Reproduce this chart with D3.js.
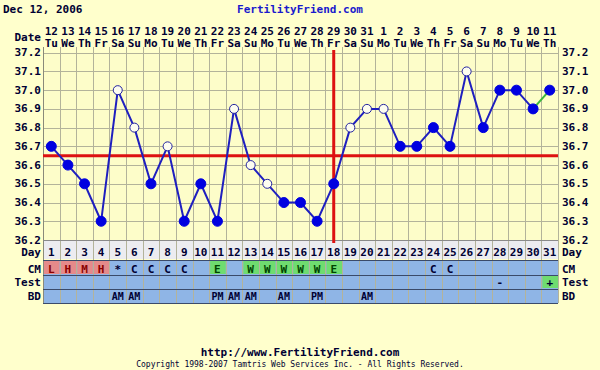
<!DOCTYPE html>
<html>
<head>
<meta charset="utf-8">
<script src="https://cdn.jsdelivr.net/npm/d3@7"></script>
<style>
  body { margin: 0; background: #ffffcc; }
  svg { display: block; }
</style>
</head>
<body>
<svg id="chart" width="600" height="370"></svg>
<script>
// cycle data
let days = d3.range(1, 32);
let dates = [12,13,14,15,16,17,18,19,20,21,22,23,24,25,26,27,28,29,30,31,1,2,3,4,5,6,7,8,9,10,11];
let weekdays = ["Tu","We","Th","Fr","Sa","Su","Mo","Tu","We","Th","Fr","Sa","Su","Mo","Tu","We","Th","Fr","Sa","Su","Mo","Tu","We","Th","Fr","Sa","Su","Mo","Tu","We","Th"];
let temps = [36.7,36.6,36.5,36.3,37.0,36.8,36.5,36.7,36.3,36.5,36.3,36.9,36.6,36.5,36.4,36.4,36.3,36.5,36.8,36.9,36.9,36.7,36.7,36.8,36.7,37.1,36.8,37.0,37.0,36.9,37.0];
let openDays = [5,6,8,12,13,14,19,20,21,26];
let cmCodes = ["L","H","M","H","*","C","C","C","C","","E","","W","W","W","W","W","E","","","","","","C","C","","","","","",""];
let testCodes = ["","","","","","","","","","","","","","","","","","","","","","","","","","","","-","","","+"];
let bdCodes = ["","","","","AM","AM","","","","","PM","AM","AM","","AM","","PM","","","AM","","","","","","","","","","",""];
let yTicks = [36.2,36.3,36.4,36.5,36.6,36.7,36.8,36.9,37.0,37.1,37.2];
let coverline = 36.65;
let ovulationDay = 18;

const svg = d3.select("#chart");
const font = "'DejaVu Sans Mono', monospace";
const ink = "#000033";

let plotLeft = 43, plotRight = 558, plotTop = 52.7, plotBottom = 240;

let x = d3.scaleBand().domain(days).range([plotLeft, plotRight]);
let y = d3.scaleLinear().domain([36.2, 37.2]).range([plotBottom, plotTop]);
let cx = d => x(d) + x.bandwidth() / 2;

// plot area
svg.append("rect")
   .attr("x", plotLeft).attr("y", plotTop)
   .attr("width", plotRight - plotLeft).attr("height", plotBottom - plotTop)
   .attr("fill", "#fdfdc9");

// rows below the plot
let rows = [
  {name: "Day", y0: 240, y1: 259, base: 256, fill: "#ececf0"},
  {name: "CM", y0: 260, y1: 275, base: 272.5, fill: "#8fb5e6"},
  {name: "Test", y0: 275, y1: 289, base: 286, fill: "#8fb5e6"},
  {name: "BD", y0: 289, y1: 303, base: 300, fill: "#8fb5e6"}
];

svg.selectAll("rect.row")
   .data(rows)
   .join("rect")
   .attr("class", "row")
   .attr("x", plotLeft).attr("y", d => d.y0)
   .attr("width", plotRight - plotLeft).attr("height", d => d.y1 - d.y0)
   .attr("fill", d => d.fill);

// coloured cm cells
let cmColor = c => c && "LHM".includes(c) ? "#e58a8a" : (c && "EW".includes(c) ? "#6fdc6f" : null);
svg.selectAll("rect.cm")
   .data(days.filter(d => cmColor(cmCodes[d - 1])))
   .join("rect")
   .attr("class", "cm")
   .attr("x", d => x(d) + 1).attr("y", 261)
   .attr("width", x.bandwidth() - 1).attr("height", 13)
   .attr("fill", d => cmColor(cmCodes[d - 1]));

svg.selectAll("rect.test")
   .data(days.filter(d => testCodes[d - 1] === "+"))
   .join("rect")
   .attr("class", "test")
   .attr("x", d => x(d) + 1).attr("y", 276)
   .attr("width", x.bandwidth() - 1).attr("height", 12)
   .attr("fill", "#6fdc6f");

// grid
const grid = svg.append("g").attr("stroke", "#b3b39a").attr("stroke-width", 1);
grid.selectAll("line.h")
    .data(yTicks)
    .join("line")
    .attr("class", "h")
    .attr("x1", plotLeft).attr("x2", plotRight)
    .attr("y1", d => Math.round(y(d)) + 0.5).attr("y2", d => Math.round(y(d)) + 0.5);
grid.selectAll("line.v")
    .data(d3.range(0, 32))
    .join("line")
    .attr("class", "v")
    .attr("x1", i => Math.round(plotLeft + i * x.bandwidth()) + 0.5)
    .attr("x2", i => Math.round(plotLeft + i * x.bandwidth()) + 0.5)
    .attr("y1", 47).attr("y2", 303)
    .attr("stroke", i => i === 0 ? "#8a8a7a" : null);

// row separators
svg.selectAll("line.sep")
   .data([240, 260, 275, 289, 303])
   .join("line")
   .attr("class", "sep")
   .attr("x1", plotLeft).attr("x2", plotRight)
   .attr("y1", d => d + 0.5).attr("y2", d => d + 0.5)
   .attr("stroke", d => d === 240 ? "#8a8a8a" : "#3a4a6a")
   .attr("stroke-width", 1);

// coverline and ovulation line
svg.append("line")
   .attr("x1", plotLeft).attr("x2", plotRight)
   .attr("y1", y(coverline)).attr("y2", y(coverline))
   .attr("stroke", "#dd1111").attr("stroke-width", 3);
svg.append("line")
   .attr("x1", cx(ovulationDay)).attr("x2", cx(ovulationDay))
   .attr("y1", 50).attr("y2", 243)
   .attr("stroke", "#dd1111").attr("stroke-width", 3);

// temperature line
let pts = days.map((d, i) => ({day: d, t: temps[i], open: openDays.includes(d)}));
let line = d3.line().x(d => cx(d.day)).y(d => y(d.t));
svg.append("path")
   .datum(pts.slice(0, 30))
   .attr("d", line)
   .attr("fill", "none")
   .attr("stroke", "#1f1fbf").attr("stroke-width", 2);
svg.append("path")
   .datum(pts.slice(29))
   .attr("d", line)
   .attr("fill", "none")
   .attr("stroke", "#3cb83c").attr("stroke-width", 2);

svg.selectAll("circle.pt")
   .data(pts)
   .join("circle")
   .attr("class", "pt")
   .attr("cx", d => cx(d.day)).attr("cy", d => y(d.t))
   .attr("r", d => d.open ? 4.5 : 5)
   .attr("fill", d => d.open ? "#fdfdf0" : "#0000e0")
   .attr("stroke", d => d.open ? "#2323a0" : "#0000e0")
   .attr("stroke-width", 1);

// axis labels, both sides
const txt = svg.append("g")
   .attr("font-family", font).attr("font-weight", "bold")
   .attr("font-size", 11).attr("fill", ink);

txt.selectAll("text.yl")
   .data(yTicks)
   .join("text")
   .attr("class", "yl")
   .attr("x", 41).attr("y", d => y(d) + 3.5)
   .attr("text-anchor", "end")
   .text(d => d.toFixed(1));
txt.selectAll("text.yr")
   .data(yTicks)
   .join("text")
   .attr("class", "yr")
   .attr("x", 562).attr("y", d => y(d) + 3.5)
   .text(d => d.toFixed(1));

// header
txt.append("text").attr("x", 3).attr("y", 13).text("Dec 12, 2006");
txt.append("text").attr("x", 300).attr("y", 13)
   .attr("text-anchor", "middle").attr("fill", "#1a1acc")
   .text("FertilityFriend.com");
txt.append("text").attr("x", 41).attr("y", 41).attr("text-anchor", "end").text("Date");
txt.selectAll("text.date")
   .data(days)
   .join("text")
   .attr("class", "date")
   .attr("x", cx).attr("y", 35)
   .attr("text-anchor", "middle")
   .text(d => dates[d - 1]);
txt.selectAll("text.wd")
   .data(days)
   .join("text")
   .attr("class", "wd")
   .attr("x", cx).attr("y", 47)
   .attr("text-anchor", "middle")
   .text(d => weekdays[d - 1]);

// row labels
txt.selectAll("text.rl")
   .data(rows)
   .join("text")
   .attr("class", "rl")
   .attr("x", 41).attr("y", d => d.base)
   .attr("text-anchor", "end")
   .text(d => d.name);
txt.selectAll("text.rr")
   .data(rows)
   .join("text")
   .attr("class", "rr")
   .attr("x", 562).attr("y", d => d.base)
   .text(d => d.name);

// row contents
txt.selectAll("text.dn")
   .data(days)
   .join("text")
   .attr("class", "dn")
   .attr("x", cx).attr("y", rows[0].base)
   .attr("text-anchor", "middle")
   .text(d => d);
txt.selectAll("text.cm")
   .data(days)
   .join("text")
   .attr("class", "cm")
   .attr("x", cx).attr("y", rows[1].base)
   .attr("text-anchor", "middle")
   .attr("fill", d => {
     let c = cmCodes[d - 1];
     if (c && "LHM".includes(c)) return "#8a0000";
     if (c === "E" || c === "W") return "#004400";
     return ink;
   })
   .text(d => cmCodes[d - 1]);
txt.selectAll("text.test")
   .data(days)
   .join("text")
   .attr("class", "test")
   .attr("x", cx).attr("y", rows[2].base)
   .attr("text-anchor", "middle")
   .text(d => testCodes[d - 1]);
txt.selectAll("text.bd")
   .data(days)
   .join("text")
   .attr("class", "bd")
   .attr("x", cx).attr("y", rows[3].base)
   .attr("text-anchor", "middle")
   .attr("font-size", 10)
   .text(d => bdCodes[d - 1]);

// footer
txt.append("text").attr("x", 300).attr("y", 356)
   .attr("text-anchor", "middle").attr("font-size", 11)
   .text("http://www.FertilityFriend.com");
txt.append("text").attr("x", 300).attr("y", 367)
   .attr("text-anchor", "middle").attr("font-size", 8).attr("font-weight", "normal")
   .text("Copyright 1998-2007 Tamtris Web Services Inc. - All Rights Reserved.");
</script>
</body>
</html>
